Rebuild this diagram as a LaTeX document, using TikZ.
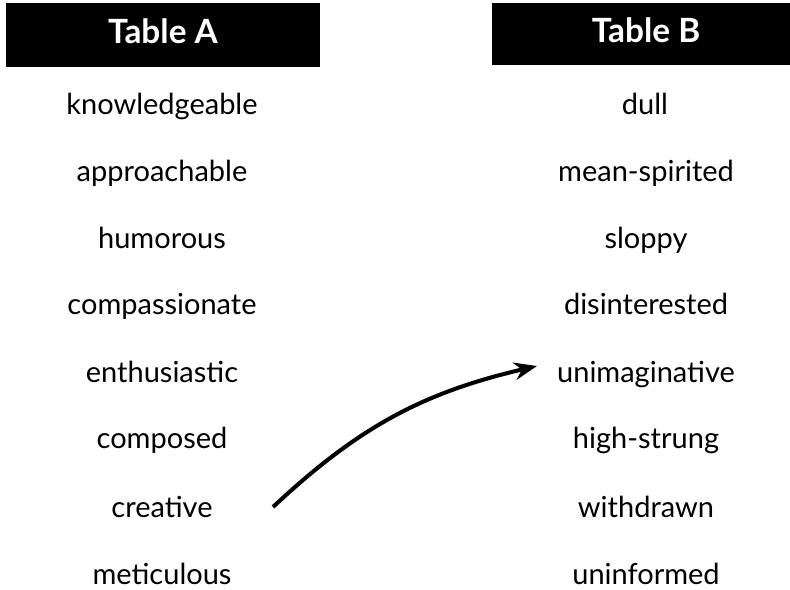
\documentclass[tikz,border=0pt]{standalone}
\usepackage{fontspec}
\setmainfont{Lato}
\usetikzlibrary{arrows.meta}
\begin{document}
\begin{tikzpicture}[x=0.02cm, y=-0.02cm,
    word/.style={font=\fontsize{16.5}{20}\selectfont, anchor=base},
    head/.style={font=\fontsize{19}{22}\selectfont\bfseries, text=white, anchor=base}]
        \begin{scope}
        \useasboundingbox (0, 0) rectangle (790, 590);
        \fill[black] (6, 3) rectangle (320, 67);
        \fill[black] (492, 3) rectangle (790, 65);
        \node[head] (headA) at (163, 44){Table A};
        \node[head] (headB) at (646, 43){Table B};
        \node[word] (knowledgeable) at (162, 115){knowledgeable};
        \node[word] (approachable) at (162, 182){approachable};
        \node[word] (humorous) at (162, 249){humorous};
        \node[word] (compassionate) at (162, 315){compassionate};
        \node[word] (enthusiastic) at (162, 383){enthusiastic};
        \node[word] (composed) at (162, 449){composed};
        \node[word] (creative) at (162, 517){creative};
        \node[word] (meticulous) at (162, 584){meticulous};
        \node[word] (dull) at (645, 115){dull};
        \node[word] (meanspirited) at (646, 182){mean-spirited};
        \node[word] (sloppy) at (646, 249){sloppy};
        \node[word] (disinterested) at (646, 315){disinterested};
        \node[word] (unimaginative) at (646, 383){unimaginative};
        \node[word] (highstrung) at (646, 449){high-strung};
        \node[word] (withdrawn) at (646, 517){withdrawn};
        \node[word] (uninformed) at (646, 584){uninformed};
        \coordinate (tail) at (273, 507);
        \coordinate (tip) at (537, 366);
        \draw[line width=2.3pt, -{Stealth[length=13pt, width=10pt]}]
            (tail) to[bend left=15] (tip);
        \end{scope}
\end{tikzpicture}
\end{document}
